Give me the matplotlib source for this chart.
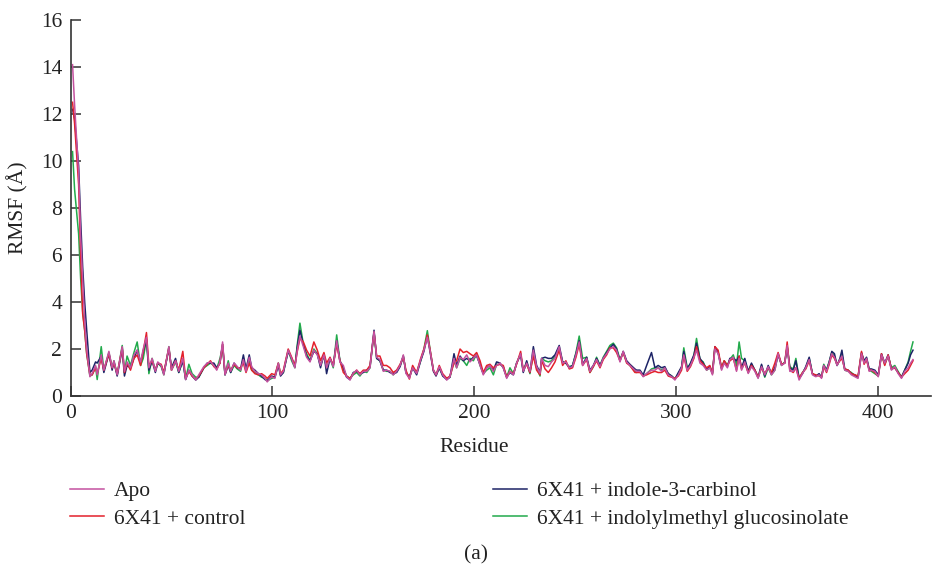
import numpy as np
import matplotlib
matplotlib.use("Agg")
import matplotlib.pyplot as plt

# residue positions (shared by the four traces)
residue = [
    1, 2, 4, 5, 6, 7, 8, 9.6, 10.7, 12.4, 13.2, 15.2, 16.5, 19, 20.6, 21.5, 23.1, 25.6, 26.7, 28,
    29.7, 31.4, 33, 34.7, 36, 37.6, 38.8, 40.4, 42, 43.2, 44.9, 46.2, 48.7, 50, 52, 53.6, 55.6, 57, 58.6, 60.2,
    62, 63.5, 66, 67.7, 69.3, 71, 72.4, 74, 75.3, 76.5, 78.1, 79.3, 81, 82.6, 84.2, 85.6, 86.9, 88.5, 89.7, 91.3,
    93, 94.6, 96.3, 97.4, 99.6, 101.2, 102.9, 104, 105.4, 107.8, 109.5, 111.1, 112.3, 113.6, 115.3, 116.9, 118.6, 120.5, 122.2, 123.8,
    125.5, 126.8, 128.5, 130.1, 131.8, 133.4, 135.1, 136.7, 138.4, 140, 141.7, 143.3, 145, 146.7, 148.3, 150.3, 151.6, 153.2, 154.9, 156.5,
    158.2, 159.8, 161.5, 163.2, 164.8, 166.1, 167.8, 169.4, 171.4, 173.4, 175, 176.7, 178, 179.7, 181, 182.6, 184.3, 186.3, 187.9, 189.9,
    191.2, 192.9, 194.5, 196.2, 197.8, 199.5, 201.1, 202.8, 204.4, 206.1, 207.7, 209.4, 211, 212.7, 214.3, 216, 217.6, 219.3, 220.9, 222.9,
    224.2, 225.9, 227.5, 229.2, 230.8, 232.5, 233.3, 235, 236.6, 238.2, 239.9, 242, 243.7, 245.3, 247, 248.6, 250.3, 251.9, 253.6, 255.6,
    257.2, 258.9, 260.5, 262.2, 263.8, 265.5, 267.1, 268.8, 270.4, 272.1, 273.7, 275.4, 277, 279.5, 280.3, 282, 283.6, 285.3, 287.7, 289.4,
    291, 292.7, 294.3, 296, 297.7, 299.3, 301, 302.6, 303.7, 305.4, 307, 308.7, 310, 311.7, 313.3, 315, 316.6, 317.9, 319.1, 320.7,
    322.4, 323.7, 325.3, 326.5, 328.2, 329.8, 331.1, 332.3, 333.9, 335.6, 337.2, 338.9, 340.5, 342.2, 343.8, 345.5, 347.1, 348.8, 350.4, 352.1,
    353.7, 354.9, 356.2, 357.9, 359.2, 360.8, 362.5, 364.1, 365.8, 367.4, 369.1, 370.7, 371.9, 373, 374.4, 375.7, 377, 378.3, 379.6, 381,
    382, 383.4, 385.1, 386.7, 388.4, 390, 391.7, 393, 394.2, 395.5, 396.6, 398.3, 400, 401.6, 403.2, 404.9, 406.5, 408.2, 409.8, 411.5,
    413.1, 414.8, 416, 417.2,
]

apo = [
    14.1, 12.4, 9.5, 6.8, 5.0, 3.2, 2.0, 0.82, 0.96, 1.3, 0.9, 1.75, 1.1, 1.9, 1.2, 1.5, 0.9, 2.1, 1.05, 1.45,
    1.2, 1.75, 1.95, 1.45, 2.0, 2.5, 1.2, 1.6, 1.05, 1.45, 1.3, 0.9, 2.1, 1.1, 1.5, 1.05, 1.6, 0.7, 1.1, 0.9,
    0.68, 0.9, 1.25, 1.4, 1.45, 1.3, 1.1, 1.45, 2.3, 0.9, 1.4, 1.05, 1.4, 1.25, 1.1, 1.55, 1.05, 1.65, 1.25, 1.05,
    0.96, 0.9, 0.75, 0.6, 0.82, 0.75, 1.4, 0.9, 1.05, 1.95, 1.6, 1.2, 1.95, 2.55, 2.1, 1.65, 1.45, 1.95, 1.75, 1.3,
    1.75, 1.2, 1.6, 1.25, 2.35, 1.45, 1.3, 0.82, 0.68, 0.96, 1.1, 0.9, 1.05, 1.05, 1.2, 2.75, 1.65, 1.55, 1.05, 1.1,
    1.05, 0.9, 1.05, 1.3, 1.75, 0.96, 0.75, 1.2, 0.96, 1.55, 1.95, 2.5, 1.95, 1.1, 0.9, 1.25, 0.9, 0.68, 0.82, 1.6,
    1.2, 1.65, 1.55, 1.75, 1.45, 1.6, 1.75, 1.3, 0.9, 1.2, 1.3, 1.05, 1.3, 1.4, 1.2, 0.75, 1.05, 0.9, 1.4, 1.8,
    1.05, 1.4, 1.05, 1.95, 1.25, 0.96, 1.6, 1.3, 1.25, 1.45, 1.6, 2.1, 1.4, 1.45, 1.2, 1.25, 1.75, 2.3, 1.3, 1.6,
    1.05, 1.3, 1.55, 1.25, 1.6, 1.8, 2.0, 2.1, 1.95, 1.45, 1.9, 1.45, 1.3, 1.1, 1.05, 1.05, 0.82, 0.96, 1.1, 1.1,
    1.2, 1.05, 1.2, 0.9, 0.82, 0.68, 0.9, 1.2, 1.75, 1.1, 1.3, 1.65, 1.95, 1.4, 1.3, 1.1, 1.2, 0.9, 2.0, 1.8,
    1.1, 1.4, 1.2, 1.55, 1.65, 1.05, 1.6, 1.1, 1.45, 0.96, 1.25, 1.05, 0.75, 1.25, 0.9, 1.25, 0.9, 1.1, 1.8, 1.3,
    1.4, 2.15, 1.05, 1.05, 1.2, 0.68, 0.96, 1.2, 1.55, 0.9, 0.82, 0.9, 0.75, 1.3, 1.05, 1.4, 1.8, 1.65, 1.3, 1.55,
    1.7, 1.1, 1.05, 0.9, 0.82, 0.75, 1.8, 1.4, 1.6, 1.05, 1.1, 1.05, 0.82, 1.75, 1.4, 1.7, 1.1, 1.25, 0.96, 0.75,
    1.05, 1.2, 1.4, 1.55,
]

control = [
    12.5, 11.6, 9.0, 6.0, 3.5, 2.8, 1.8, 0.9, 0.9, 1.2, 0.95, 1.6, 1.1, 1.8, 1.2, 1.4, 0.95, 2.05, 1.0, 1.4,
    1.1, 1.6, 1.75, 1.3, 1.9, 2.7, 1.3, 1.5, 1.1, 1.4, 1.35, 1.0, 2.05, 1.1, 1.5, 1.1, 1.9, 0.75, 1.05, 0.85,
    0.72, 0.85, 1.2, 1.35, 1.5, 1.25, 1.15, 1.4, 2.2, 0.95, 1.3, 1.1, 1.35, 1.2, 1.2, 1.4, 1.0, 1.4, 1.1, 0.95,
    0.9, 0.95, 0.85, 0.75, 0.95, 0.9, 1.4, 0.95, 1.1, 2.0, 1.65, 1.3, 1.9, 2.45, 2.3, 1.95, 1.7, 2.3, 1.95, 1.5,
    1.85, 1.4, 1.65, 1.3, 2.2, 1.5, 1.0, 0.85, 0.75, 0.95, 1.1, 0.95, 1.1, 1.1, 1.3, 2.7, 1.7, 1.7, 1.3, 1.3,
    1.2, 1.0, 1.1, 1.35, 1.65, 1.1, 0.72, 1.3, 1.0, 1.6, 2.0, 2.6, 2.0, 1.1, 0.9, 1.3, 0.95, 0.75, 0.85, 1.4,
    1.5, 2.0, 1.85, 1.9, 1.8, 1.7, 1.85, 1.5, 1.0, 1.3, 1.35, 1.2, 1.3, 1.35, 1.3, 0.8, 1.05, 0.95, 1.35, 1.9,
    1.1, 1.35, 1.0, 1.7, 1.1, 0.9, 1.5, 1.15, 1.0, 1.2, 1.45, 1.95, 1.3, 1.5, 1.15, 1.2, 1.65, 2.2, 1.3, 1.55,
    1.0, 1.25, 1.5, 1.2, 1.55, 1.75, 2.05, 2.05, 1.85, 1.5, 1.85, 1.4, 1.3, 1.0, 1.0, 1.0, 0.85, 0.9, 1.0, 1.05,
    1.0, 1.0, 1.1, 0.85, 0.8, 0.75, 0.85, 1.1, 1.7, 1.05, 1.25, 1.6, 2.1, 1.5, 1.35, 1.2, 1.3, 0.95, 2.1, 1.95,
    1.2, 1.5, 1.3, 1.5, 1.6, 1.1, 1.7, 1.15, 1.4, 1.0, 1.3, 1.1, 0.8, 1.2, 0.95, 1.2, 1.0, 1.4, 1.85, 1.35,
    1.4, 2.3, 1.1, 1.0, 1.2, 0.75, 1.0, 1.15, 1.5, 0.95, 0.9, 0.85, 0.8, 1.25, 1.0, 1.35, 1.75, 1.6, 1.35, 1.5,
    1.6, 1.15, 1.1, 0.95, 0.9, 0.85, 1.9, 1.35, 1.55, 1.1, 1.1, 1.0, 0.85, 1.8, 1.3, 1.75, 1.15, 1.2, 1.0, 0.8,
    0.95, 1.1, 1.3, 1.5,
]

indole = [
    12.2, 11.8, 9.8, 7.5, 5.5, 4.0, 2.8, 1.0, 1.1, 1.45, 1.4, 1.7, 1.0, 1.8, 1.1, 1.45, 0.85, 2.0, 0.85, 1.3,
    1.2, 1.6, 1.95, 1.4, 1.9, 2.4, 1.1, 1.5, 1.0, 1.4, 1.3, 0.95, 2.0, 1.2, 1.6, 1.0, 1.5, 0.7, 1.1, 0.85,
    0.68, 0.8, 1.2, 1.4, 1.4, 1.4, 1.2, 1.4, 2.2, 0.9, 1.3, 1.0, 1.4, 1.2, 1.15, 1.75, 1.15, 1.75, 1.2, 1.1,
    0.95, 0.85, 0.7, 0.65, 0.85, 0.8, 1.3, 0.85, 1.0, 1.9, 1.6, 1.25, 2.1, 2.8, 2.2, 1.7, 1.5, 1.9, 1.8, 1.2,
    1.8, 0.95, 1.6, 1.3, 2.35, 1.5, 1.2, 0.8, 0.7, 1.0, 1.05, 0.95, 1.0, 1.1, 1.25, 2.8, 1.6, 1.5, 1.1, 1.1,
    1.0, 0.95, 1.0, 1.25, 1.7, 1.0, 0.8, 1.2, 0.9, 1.5, 1.9, 2.55, 1.9, 1.05, 0.85, 1.2, 0.85, 0.7, 0.8, 1.8,
    1.3, 1.7, 1.5, 1.6, 1.5, 1.65, 1.7, 1.35, 0.95, 1.2, 1.3, 1.1, 1.45, 1.4, 1.2, 0.8, 1.0, 0.9, 1.4, 1.75,
    1.0, 1.5, 1.0, 2.1, 1.3, 1.0, 1.6, 1.65, 1.6, 1.6, 1.75, 2.15, 1.45, 1.4, 1.2, 1.3, 1.8, 2.35, 1.35, 1.65,
    1.1, 1.3, 1.6, 1.3, 1.6, 1.85, 2.05, 2.2, 2.0, 1.5, 1.9, 1.5, 1.35, 1.15, 1.1, 1.1, 0.9, 1.3, 1.85, 1.2,
    1.3, 1.2, 1.25, 0.95, 0.85, 0.72, 1.0, 1.25, 1.9, 1.15, 1.4, 1.75, 2.25, 1.6, 1.4, 1.15, 1.25, 1.0, 2.1, 1.85,
    1.15, 1.45, 1.25, 1.6, 1.6, 1.5, 1.7, 1.2, 1.6, 1.05, 1.4, 1.1, 0.8, 1.35, 0.85, 1.3, 0.95, 1.2, 1.75, 1.35,
    1.4, 2.1, 1.2, 1.1, 1.5, 0.75, 0.95, 1.25, 1.65, 0.95, 0.85, 0.95, 0.8, 1.3, 1.1, 1.45, 1.9, 1.8, 1.3, 1.6,
    1.95, 1.15, 1.1, 0.95, 0.9, 0.8, 1.85, 1.5, 1.65, 1.15, 1.15, 1.1, 0.9, 1.8, 1.4, 1.75, 1.15, 1.2, 1.0, 0.8,
    1.1, 1.4, 1.75, 1.95,
]

glucosinolate = [
    10.4, 8.8, 6.9, 5.0, 3.6, 2.8, 1.8, 0.85, 0.9, 1.25, 0.7, 2.1, 1.1, 1.85, 1.2, 1.5, 0.9, 2.15, 1.0, 1.7,
    1.3, 1.85, 2.3, 1.3, 1.6, 2.4, 0.95, 1.6, 1.1, 1.4, 1.25, 0.9, 2.1, 1.1, 1.45, 1.0, 1.5, 0.72, 1.35, 0.95,
    0.8, 0.8, 1.2, 1.3, 1.4, 1.3, 1.15, 1.6, 2.1, 0.9, 1.5, 1.0, 1.3, 1.15, 1.05, 1.6, 1.1, 1.5, 1.1, 1.0,
    0.9, 0.8, 0.75, 0.65, 0.75, 0.8, 1.4, 0.9, 1.0, 1.95, 1.5, 1.2, 2.2, 3.1, 2.2, 1.8, 1.5, 2.0, 1.8, 1.3,
    1.7, 1.2, 1.6, 1.2, 2.6, 1.5, 1.15, 0.85, 0.75, 0.9, 1.0, 0.85, 1.05, 1.0, 1.2, 2.7, 1.6, 1.5, 1.1, 1.05,
    1.05, 0.9, 1.05, 1.3, 1.7, 1.0, 0.8, 1.2, 1.0, 1.5, 2.0, 2.78, 2.0, 1.1, 0.9, 1.2, 0.9, 0.75, 0.8, 1.5,
    1.2, 1.6, 1.5, 1.3, 1.6, 1.5, 1.8, 1.3, 0.95, 1.1, 1.2, 0.9, 1.35, 1.35, 1.25, 0.8, 1.2, 0.95, 1.4, 1.8,
    1.05, 1.45, 0.95, 1.8, 1.2, 0.85, 1.6, 1.5, 1.45, 1.5, 1.7, 2.0, 1.45, 1.4, 1.25, 1.3, 1.85, 2.55, 1.6, 1.65,
    1.0, 1.25, 1.65, 1.3, 1.65, 1.9, 2.15, 2.25, 2.05, 1.55, 1.85, 1.45, 1.3, 1.05, 1.0, 1.05, 0.85, 0.95, 1.15, 1.2,
    1.2, 1.1, 1.2, 0.95, 0.85, 0.72, 0.95, 1.2, 2.05, 1.2, 1.35, 1.7, 2.45, 1.55, 1.45, 1.1, 1.2, 0.95, 2.05, 1.85,
    1.2, 1.5, 1.3, 1.55, 1.75, 1.3, 2.3, 1.6, 1.5, 1.0, 1.35, 1.1, 0.78, 1.3, 0.8, 1.2, 0.9, 1.1, 1.8, 1.3,
    1.45, 2.1, 1.25, 1.15, 1.6, 0.75, 1.0, 1.2, 1.6, 0.95, 0.85, 0.9, 0.8, 1.35, 1.1, 1.45, 1.85, 1.7, 1.3, 1.55,
    1.75, 1.1, 1.05, 1.0, 0.85, 0.8, 1.8, 1.45, 1.6, 1.1, 1.05, 0.95, 0.85, 1.75, 1.35, 1.7, 1.2, 1.3, 1.05, 0.8,
    1.1, 1.45, 1.9, 2.3,
]

labels = ["Apo", "6X41 + control", "6X41 + indole-3-carbinol", "6X41 + indolylmethyl glucosinolate"]
colors = ["#c4519f", "#e3202b", "#1c2366", "#22aa4b"]

plt.rcParams['font.family'] = ['Liberation Serif', 'DejaVu Serif']
fs = 15.5

fig = plt.figure(figsize=(9.33, 5.72), dpi=100)
ax = fig.add_axes([0.0756, 0.3077, 0.922, 0.6573])

# draw green/navy/red first, Apo on top
lines = {}
for name, vals, col in [(labels[3], glucosinolate, colors[3]),
                        (labels[2], indole, colors[2]),
                        (labels[1], control, colors[1]),
                        (labels[0], apo, colors[0])]:
    lines[name], = ax.plot(residue, vals, color=col, lw=1.1, label=name)

ax.set_xlim(0, 426)
ax.set_ylim(0, 16)
ax.set_xticks([0, 100, 200, 300, 400])
ax.set_yticks(np.arange(0, 17, 2))
ax.spines['top'].set_visible(False)
ax.spines['right'].set_visible(False)
for s in ['left', 'bottom']:
    ax.spines[s].set_color('#333333')
    ax.spines[s].set_linewidth(1.2)
ax.tick_params(direction='in', length=7, width=1.1, color='#333333',
               labelsize=fs, labelcolor='#222222', pad=6)

ax.set_xlabel('Residue', fontsize=fs, color='#222222')
ax.xaxis.set_label_coords(0.469, -0.112)
ax.set_ylabel('RMSF (Å)', fontsize=fs, color='#222222')
ax.yaxis.set_label_coords(-0.049, 0.5)

leg_kw = dict(frameon=False, fontsize=fs, handlelength=1.6, handletextpad=0.45,
              labelspacing=0.36, borderaxespad=0, borderpad=0)
leg1 = fig.legend([lines[labels[0]], lines[labels[1]]], labels[:2],
                  loc='upper left', bbox_to_anchor=(0.075, 0.159), **leg_kw)
leg2 = fig.legend([lines[labels[2]], lines[labels[3]]], labels[2:],
                  loc='upper left', bbox_to_anchor=(0.528, 0.159), **leg_kw)
for leg in (leg1, leg2):
    for t in leg.get_texts():
        t.set_color('#222222')

fig.text(0.51, 0.03, '(a)', fontsize=fs, ha='center', va='center', color='#222222')

fig.savefig('out.png', dpi=100)
